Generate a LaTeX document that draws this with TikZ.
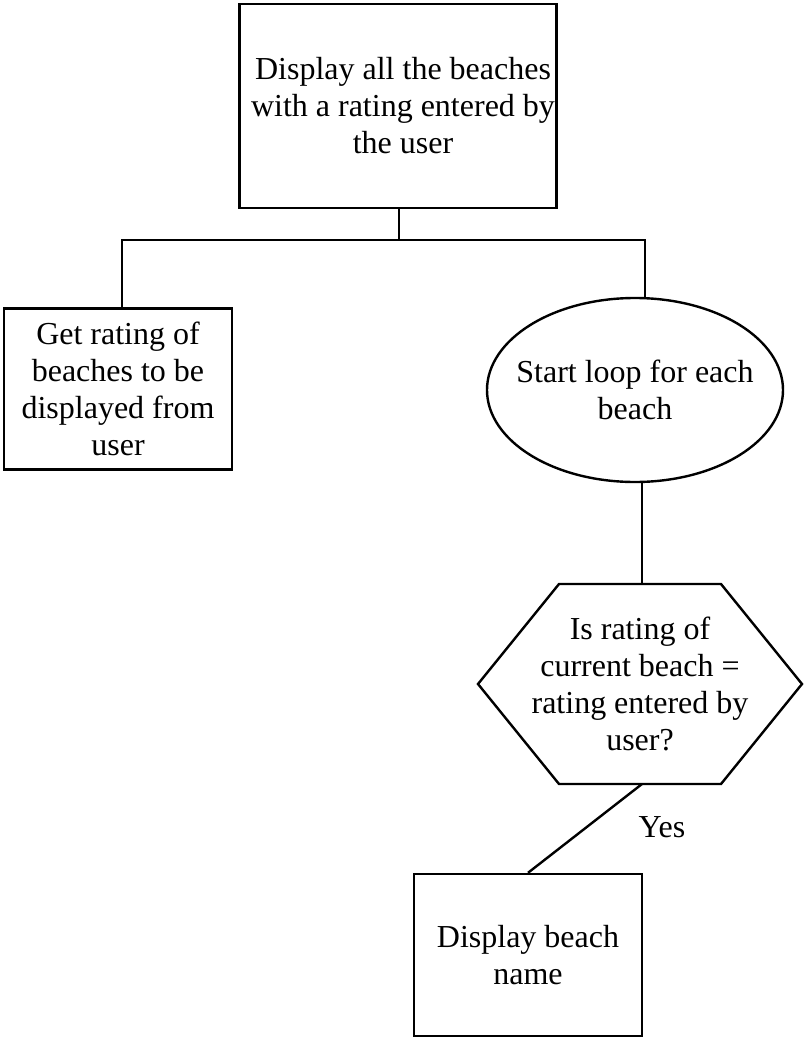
\documentclass[tikz,border=0pt]{standalone}
\usepackage{fontspec}
\setmainfont{Liberation Serif}
\usetikzlibrary{calc}
\begin{document}
\begin{tikzpicture}[x=1pt,y=-1pt,
  every node/.style={font=\fontsize{32}{37}\selectfont, align=center, inner sep=0pt},
  line/.style={line width=2.4pt},
  box/.style={draw, line width=2.4pt, rectangle}]
\useasboundingbox (0,0) rectangle (804,1038);
\node[box, minimum width=317, minimum height=204,
  label={[xshift=5pt]center:{Display all the beaches\\with a rating entered by\\the user}}] (top) at (398,106) {};
\node[box, minimum width=228, minimum height=161] (get) at (118,389)
  {Get rating of\\beaches to be\\displayed from\\user};
\node[minimum width=296, minimum height=184] (loop) at (635,390)
  {Start loop for each\\beach};
\draw[line] (loop.center) ellipse [x radius=148, y radius=92];
\node[minimum width=324, minimum height=200] (hex) at (640,684)
  {Is rating of\\current beach =\\rating entered by\\user?};
\draw[line, line join=miter] ($(hex.center)+(-162,0)$) -- ++(81,-100) -- ++(162,0)
  -- ++(81,100) -- ++(-81,100) -- ++(-162,0) -- cycle;
\node[box, minimum width=228, minimum height=162] (disp) at (528,955)
  {Display beach\\name};
\node (yes) at (662,827) {Yes};
\coordinate (j) at (399,240);
\coordinate (jl) at (122,240);
\coordinate (jr) at (645,240);
\coordinate (ht) at (642,584);
\coordinate (hb) at (642,784);
\draw[line] (top.south -| j) -- (j);
\draw[line] (get.north -| jl) -- (jl) -- (jr) -- (jr |- loop.north);
\draw[line] (loop.south -| ht) -- (ht);
\draw[line] (hb) -- (disp.north);
\end{tikzpicture}
\end{document}
